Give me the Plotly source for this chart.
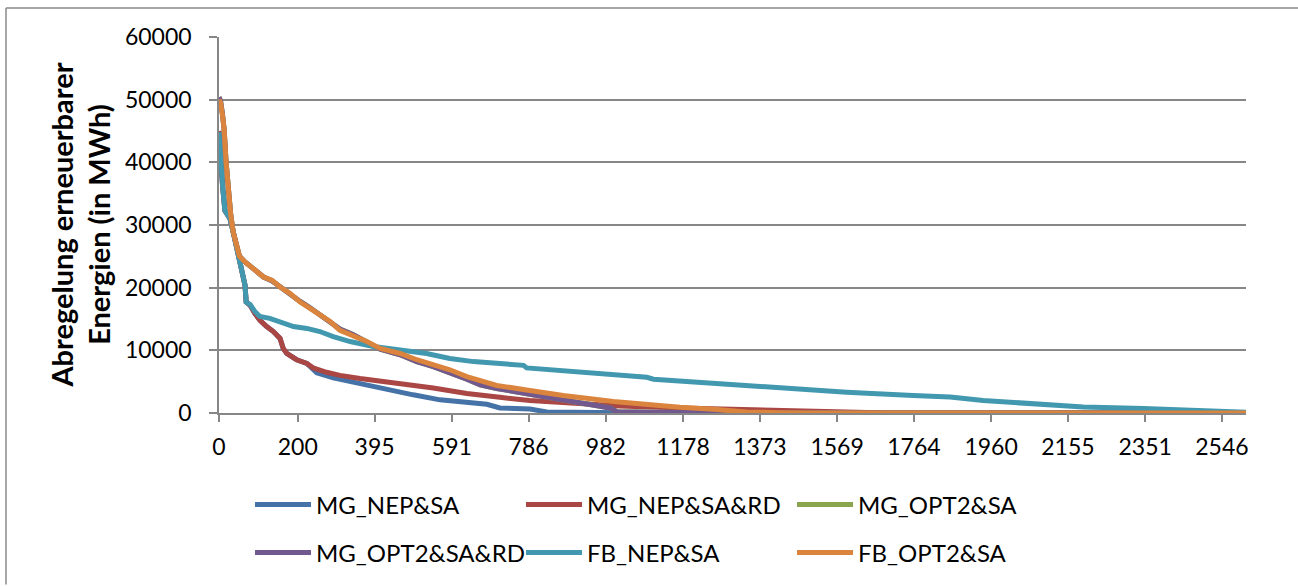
import plotly.graph_objects as go

# Duration curves of curtailed renewable energy (sorted hours)
tick_vals = [0, 200, 395, 591, 786, 982, 1178, 1373, 1569, 1764, 1960, 2155, 2351, 2546]
tick_text = [str(v) for v in tick_vals]
y_tick_vals = [0, 10000, 20000, 30000, 40000, 50000, 60000]
y_tick_text = [str(v) for v in y_tick_vals]

mg_nep_sa_x = [0, 4, 9, 15, 28, 36, 45, 53, 62, 66, 69, 79, 91, 104, 121, 138, 155, 163, 172, 197, 223,
               248, 290, 333, 375, 426, 493, 561, 629, 680, 713, 789, 832, 1001, 1100, 2607]
mg_nep_sa_y = [45000, 40500, 36300, 32300, 31000, 28900, 26200, 24100, 22000, 20400, 17700, 17200, 15900,
               14800, 13800, 13000, 11900, 10300, 9500, 8500, 7900,
               6400, 5600, 5000, 4500, 3700, 2900, 2100, 1750, 1400, 800, 650, 160, 50, 0, 0]

mg_nep_sa_rd_x = [0, 4, 9, 15, 28, 36, 45, 53, 62, 66, 69, 79, 91, 104, 121, 138, 155, 163, 172, 197, 223,
                  239, 273, 307, 358, 409, 460, 544, 629, 663, 713, 789, 916, 1018, 1170, 1339, 1508, 1593,
                  1700, 2607]
mg_nep_sa_rd_y = [45000, 40500, 36300, 32300, 31000, 28900, 26200, 24100, 22000, 20400, 17700, 17200, 15900,
                  14800, 13800, 13000, 11900, 10300, 9500, 8500, 7900,
                  7200, 6500, 6000, 5500, 5100, 4800, 4000, 3100, 2800, 2500, 2000, 1500, 1100, 800, 530, 320,
                  160, 0, 0]

mg_opt2_sa_x = [0, 4, 9, 13, 18, 24, 30, 36, 43, 52, 66, 87, 113, 134, 155, 180, 206, 231, 256, 282, 307,
                341, 375, 409, 460, 502, 544, 586, 629, 663, 705, 789, 850, 916, 993, 1010, 1100, 1330, 1500, 2607]
mg_opt2_sa_y = [50400, 49800, 47600, 45300, 40000, 35200, 31500, 28900, 26800, 25000, 24100, 23000, 21700,
                21100, 20100, 19000, 17800, 16800, 15700, 14700, 13400, 12500, 11300, 10200, 9300, 8200, 7400,
                6500, 5400, 4500, 3900, 3000, 2300, 1500, 800, 200, 100, 50, 0, 0]

mg_opt2_sa_rd_x = [0, 4, 9, 13, 18, 24, 30, 36, 43, 52, 66, 87, 113, 134, 155, 180, 206, 231, 256, 282, 307,
                   341, 375, 409, 460, 502, 544, 586, 629, 663, 705, 789, 850, 916, 993, 1010, 1100, 1330, 1500,
                   2607]
mg_opt2_sa_rd_y = [50400, 49800, 47600, 45300, 40000, 35200, 31500, 28900, 26800, 25000, 24100, 23000, 21700,
                   21100, 20100, 19000, 17800, 16800, 15700, 14700, 13400, 12500, 11300, 10200, 9300, 8200, 7400,
                   6500, 5400, 4500, 3900, 3000, 2300, 1500, 800, 200, 100, 50, 0, 0]

fb_nep_sa_x = [0, 4, 9, 15, 28, 36, 45, 53, 62, 66, 69, 79, 91, 104, 129, 155, 189, 223, 256, 290, 333, 392,
               460, 527, 586, 646, 713, 773, 781, 916, 1001, 1086, 1103, 1255, 1424, 1593, 1762, 1856, 1940,
               2093, 2194, 2347, 2448, 2600, 2607]
fb_nep_sa_y = [44800, 40500, 36300, 32300, 31000, 28900, 26200, 24100, 22000, 20400, 17700, 17300, 16200,
               15400, 15100, 14600, 13800, 13500, 13000, 12200, 11400, 10600, 10100, 9500, 8700, 8200, 7900,
               7600, 7200, 6500, 6100, 5700, 5400, 4700, 4000, 3300, 2800, 2550, 2000, 1250, 950, 700, 450,
               150, 100]

fb_opt2_sa_x = [0, 4, 9, 13, 18, 24, 30, 36, 43, 52, 66, 87, 113, 134, 155, 180, 206, 231, 256, 282, 307,
                341, 375, 409, 460, 502, 544, 586, 629, 671, 705, 789, 874, 1001, 1043, 1103, 1170, 1255, 1339,
                1424, 1500, 2607]
fb_opt2_sa_y = [50000, 49500, 47400, 45300, 40000, 35200, 31500, 28900, 26800, 25000, 24100, 23000, 21700,
                21200, 20100, 19100, 17700, 16700, 15600, 14600, 13200, 12400, 11400, 10300, 9500, 8500, 7700,
                6900, 5800, 5000, 4400, 3600, 2800, 1850, 1600, 1100, 900, 580, 160, 50, 0, 0]

series = [
    ("MG_NEP&SA", mg_nep_sa_x, mg_nep_sa_y, "#4572A7", "legend"),
    ("MG_NEP&SA&RD", mg_nep_sa_rd_x, mg_nep_sa_rd_y, "#AA4643", "legend"),
    ("MG_OPT2&SA", mg_opt2_sa_x, mg_opt2_sa_y, "#89A54E", "legend"),
    ("MG_OPT2&SA&RD", mg_opt2_sa_rd_x, mg_opt2_sa_rd_y, "#71588F", "legend2"),
    ("FB_NEP&SA", fb_nep_sa_x, fb_nep_sa_y, "#4198AF", "legend2"),
    ("FB_OPT2&SA", fb_opt2_sa_x, fb_opt2_sa_y, "#DB843D", "legend2"),
]

FONT = "Lato"
GRID = "#878787"

fig = go.Figure()
for name, xs, ys, color, leg in series:
    fig.add_trace(go.Scatter(
        x=xs, y=ys, name=name, mode="lines",
        line=dict(color=color, width=5, shape="linear"),
        legend=leg,
    ))

W, H = 1298, 586
L, R, T, B = 219, 52, 37, 172
pw, ph = W - L - R, H - T - B


def px_x(p):
    return (p - L) / pw


def px_y(p):
    return (H - B - p) / ph


legend_common = dict(
    orientation="h", xanchor="left", yanchor="middle",
    font=dict(family=FONT, size=24, color="#000000"),
    entrywidth=200, entrywidthmode="pixels", itemwidth=56,
    bgcolor="rgba(0,0,0,0)", borderwidth=0,
)

fig.update_layout(
    width=W, height=H,
    margin=dict(l=L, r=R, t=T, b=B),
    paper_bgcolor="white", plot_bgcolor="white",
    font=dict(family=FONT, size=23, color="#000000"),
    legend=dict(x=px_x(250), y=px_y(505), **legend_common),
    legend2=dict(x=px_x(250), y=px_y(553), **legend_common),
    xaxis=dict(
        range=[0, 2607], tickmode="array", tickvals=tick_vals, ticktext=tick_text,
        showgrid=False, zeroline=False, showline=True, linecolor=GRID, linewidth=1.5,
        ticks="outside", ticklen=7, tickcolor=GRID, tickwidth=1.5,
        tickfont=dict(family=FONT, size=23, color="#000000"),
        ticklabelstandoff=6,
    ),
    yaxis=dict(
        range=[0, 60000], tickmode="array", tickvals=y_tick_vals, ticktext=y_tick_text,
        showgrid=True, gridcolor=GRID, gridwidth=1.5, zeroline=False,
        showline=True, linecolor=GRID, linewidth=1.5,
        ticks="outside", ticklen=8, tickcolor=GRID, tickwidth=1.5,
        tickfont=dict(family=FONT, size=23, color="#000000"),
        ticklabelstandoff=13,
    ),
    annotations=[dict(
        text="<b>Abregelung erneuerbarer<br>Energien (in MWh)</b>",
        x=px_x(80), y=px_y(226), xref="paper", yref="paper",
        xanchor="center", yanchor="middle", textangle=-90, showarrow=False,
        font=dict(family=FONT, size=29, color="#000000"),
    )],
    shapes=[
        dict(type="line", xref="paper", yref="paper", x0=px_x(6), x1=px_x(1298), y0=px_y(8), y1=px_y(8),
             line=dict(color="#8a8a8a", width=1.5)),
        dict(type="line", xref="paper", yref="paper", x0=px_x(6), x1=px_x(6), y0=px_y(8), y1=px_y(586),
             line=dict(color="#8a8a8a", width=1.5)),
    ],
)

fig.write_html("out.html")
